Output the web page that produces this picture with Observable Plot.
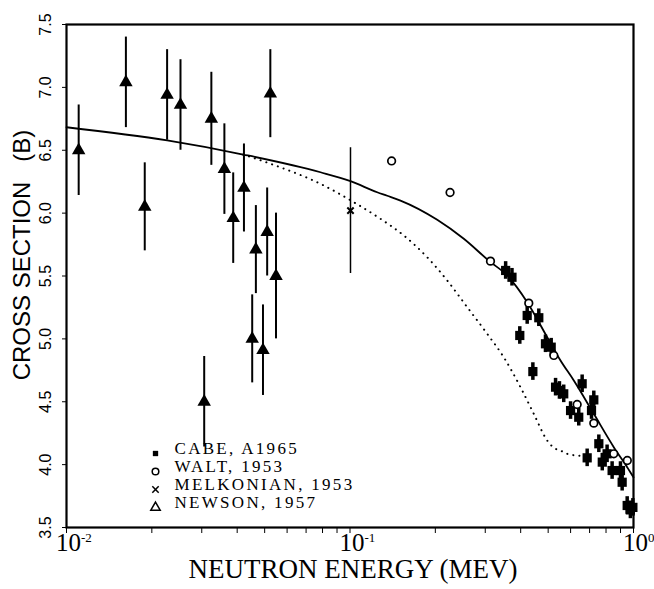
<!DOCTYPE html>
<html>
<head>
<meta charset="utf-8">
<script src="https://cdn.jsdelivr.net/npm/d3@7"></script>
<script src="https://cdn.jsdelivr.net/npm/@observablehq/plot@0.6"></script>
<style>
  html, body { margin: 0; padding: 0; background: white; }
</style>
</head>
<body>
<div id="chart"></div>
<script>
// ---- data ----
const newsonE   = [0.01104, 0.0162, 0.01888, 0.02264, 0.02524, 0.0306, 0.03243, 0.03605, 0.03873, 0.04226, 0.04519, 0.04656, 0.04932, 0.05103, 0.05236, 0.05483];
const newsonS   = [6.50, 7.04, 6.05, 6.94, 6.86, 4.50, 6.75, 6.35, 5.96, 6.20, 5.00, 5.71, 4.91, 5.85, 6.95, 5.50];
const newsonErr = [0.36, 0.36, 0.35, 0.36, 0.36, 0.36, 0.37, 0.36, 0.36, 0.35, 0.35, 0.35, 0.36, 0.35, 0.35, 0.50];

const waltE = [0.1402, 0.2254, 0.313, 0.4272, 0.5236, 0.6328, 0.7244, 0.852, 0.951];
const waltS = [6.415, 6.164, 5.618, 5.284, 4.868, 4.478, 4.33, 4.086, 4.033];

const melkE = [0.1004];
const melkS = [6.02];
const melkErr = [0.5];

const cabeE = [0.354, 0.3727, 0.3971, 0.4217, 0.4416, 0.4634, 0.4892, 0.5125, 0.531, 0.548, 0.5674, 0.5998, 0.641, 0.659, 0.6864, 0.711, 0.7244, 0.7546, 0.776, 0.807, 0.8406, 0.8995, 0.912, 0.95, 0.975, 0.995];
const cabeS = [5.544, 5.49, 5.027, 5.186, 4.74, 5.168, 4.961, 4.934, 4.616, 4.59, 4.563, 4.43, 4.377, 4.643, 4.054, 4.43, 4.515, 4.166, 4.02, 4.086, 3.953, 3.953, 3.86, 3.675, 3.64, 3.66];
const cabeErr = [0.07, 0.07, 0.07, 0.07, 0.07, 0.07, 0.07, 0.07, 0.07, 0.07, 0.07, 0.07, 0.07, 0.07, 0.07, 0.07, 0.07, 0.07, 0.07, 0.07, 0.07, 0.07, 0.07, 0.07, 0.07, 0.07];

const solidE = [0.01, 0.02265, 0.042, 0.0787, 0.1004, 0.1247, 0.1353, 0.1507, 0.2031, 0.252, 0.3113, 0.3584, 0.4217, 0.4962, 0.5527, 0.6158, 0.7244, 0.852, 0.95, 1.0];
const solidS = [6.683, 6.578, 6.466, 6.325, 6.254, 6.166, 6.138, 6.10, 5.947, 5.796, 5.615, 5.504, 5.292, 5.013, 4.828, 4.669, 4.404, 4.139, 3.98, 3.90];

const dotE = [0.042, 0.0513, 0.0808, 0.1031, 0.1281, 0.1548, 0.1872, 0.2203, 0.2591, 0.3048, 0.3486, 0.3994, 0.4449, 0.4962, 0.5235, 0.5527, 0.5834, 0.6501];
const dotS = [6.466, 6.40, 6.22, 6.087, 5.955, 5.822, 5.649, 5.464, 5.252, 5.04, 4.854, 4.616, 4.404, 4.192, 4.134, 4.112, 4.086, 4.07];

const yTicks = [3.5, 4.0, 4.5, 5.0, 5.5, 6.0, 6.5, 7.0, 7.5];
const yTickLabels = ["3.5", "4.0", "4.5", "5.0", "5.5", "6.0", "6.5", "7.0", "7.5"];
const xTicks = [0.01, 0.1, 1];
const xTickBase = ["10", "10", "10"];
const xTickExp = ["-2", "-1", "0"];

const legendLabels = ["CABE, A1965", "WALT, 1953", "MELKONIAN, 1953", "NEWSON, 1957"];
const xLabel = "NEUTRON ENERGY (MEV)";
const yLabel = "CROSS SECTION\u00a0\u00a0\u00a0(B)";

// ---- tables built from the arrays ----
const newson = newsonE.map((e, i) => ({e, s: newsonS[i], lo: newsonS[i] - newsonErr[i], hi: newsonS[i] + newsonErr[i]}));
const walt = waltE.map((e, i) => ({e, s: waltS[i]}));
const melk = melkE.map((e, i) => ({e, s: melkS[i], lo: melkS[i] - melkErr[i], hi: melkS[i] + melkErr[i]}));
const cabe = cabeE.map((e, i) => ({e, s: cabeS[i], lo: cabeS[i] - cabeErr[i], hi: cabeS[i] + cabeErr[i]}));
const solid = solidE.map((e, i) => ({e, s: solidS[i]}));
const dotted = dotE.map((e, i) => ({e, s: dotS[i]}));

const serif = "'Liberation Serif', 'Times New Roman', serif";
const sans = "'Liberation Sans', Arial, sans-serif";

const legendSymbols = [
  {symbol: "square", r: 3, fill: "black", stroke: "none"},
  {symbol: "circle", r: 3.3, fill: "white", stroke: "black"},
  {symbol: "times", r: 3, fill: "none", stroke: "black"},
  {symbol: "triangle", r: 3.5, fill: "white", stroke: "black"}
];
const legendDy = [-74, -56, -38, -20];

const legendMarks = legendLabels.flatMap((lab, i) => [
  Plot.dot([lab], {frameAnchor: "bottom-left", dx: 89, dy: legendDy[i], strokeWidth: 1.5, ...legendSymbols[i]}),
  Plot.text([lab], {text: d => d, frameAnchor: "bottom-left", dx: 108, dy: legendDy[i], textAnchor: "start", fontSize: 17, fontFamily: serif, fill: "black"})
]);

const chart = Plot.plot({
  width: 654,
  height: 589,
  marginLeft: 66,
  marginRight: 21,
  marginTop: 24,
  marginBottom: 62,
  style: {background: "white", color: "black", overflow: "visible"},
  x: {type: "log", domain: [0.01, 1], tickSize: 6, tickFormat: () => "", label: null},
  y: {domain: [3.5, 7.5], ticks: yTicks, tickSize: 4, tickFormat: () => "", label: null},
  marks: [
    Plot.frame({strokeWidth: 2.2}),
    Plot.line(dotted, {x: "e", y: "s", stroke: "black", strokeWidth: 2, strokeDasharray: "0.1 6", strokeLinecap: "round", curve: "monotone-x"}),
    Plot.line(solid, {x: "e", y: "s", stroke: "black", strokeWidth: 1.8, curve: "monotone-x"}),
    Plot.ruleX(newson, {x: "e", y1: "lo", y2: "hi", stroke: "black", strokeWidth: 2}),
    Plot.dot(newson, {x: "e", y: "s", symbol: "triangle", r: 5, fill: "black", stroke: "none"}),
    Plot.ruleX(melk, {x: "e", y1: "lo", y2: "hi", stroke: "black", strokeWidth: 1.5}),
    Plot.dot(melk, {x: "e", y: "s", symbol: "times", r: 3, stroke: "black", strokeWidth: 2}),
    Plot.ruleX(cabe, {x: "e", y1: "lo", y2: "hi", stroke: "black", strokeWidth: 3.5}),
    Plot.dot(cabe, {x: "e", y: "s", symbol: "square", r: 5.2, fill: "black", stroke: "none"}),
    Plot.dot(walt, {x: "e", y: "s", symbol: "circle", r: 3.8, fill: "white", stroke: "black", strokeWidth: 1.7}),
    // y tick labels (rotated, centred on the ticks)
    Plot.text(yTicks, {y: d => d, text: (d, i) => yTickLabels[i], frameAnchor: "left", textAnchor: "middle", dx: -21, rotate: -90, fontSize: 16, fontFamily: sans, fill: "black"}),
    // x tick labels 10^n
    Plot.text(xTicks, {x: d => d, text: (d, i) => xTickBase[i], frameAnchor: "bottom", dx: 2, dy: 23, fontSize: 25, fontFamily: serif, fill: "black"}),
    Plot.text(xTicks, {x: d => d, text: (d, i) => xTickExp[i], frameAnchor: "bottom", dx: 14.5, dy: 14, textAnchor: "start", fontSize: 13, fontFamily: serif, fill: "black"}),
    // axis titles
    Plot.text([xLabel], {text: d => d, frameAnchor: "bottom", dx: 3, dy: 50, fontSize: 27, fontFamily: serif, fill: "black"}),
    Plot.text([yLabel], {text: d => d, frameAnchor: "left", textAnchor: "middle", dx: -44, dy: -21, rotate: -90, fontSize: 24, fontFamily: sans, fill: "black"}),
    ...legendMarks
  ]
});

d3.select(chart).selectAll("text")
  .filter(function () { return legendLabels.includes(this.textContent); })
  .attr("letter-spacing", 2.3);

document.getElementById("chart").appendChild(chart);
</script>
</body>
</html>
